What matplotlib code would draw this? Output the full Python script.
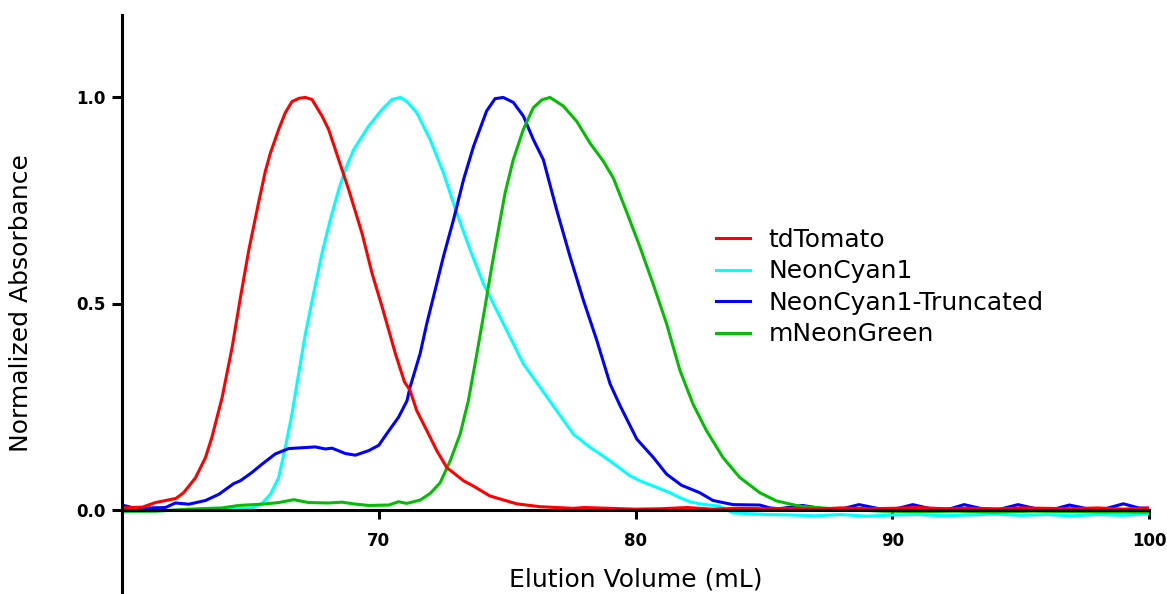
import matplotlib
matplotlib.use("Agg")
import matplotlib.pyplot as plt

# elution profiles (mL, normalized A)
td_x = [60.0, 60.8, 61.3, 62.1, 62.4, 62.86, 63.25, 63.5, 63.9, 64.29, 64.6, 64.94,
        65.32, 65.58, 65.78, 66.1, 66.36, 66.62, 66.9, 67.14, 67.4, 67.79, 68.05,
        68.44, 68.83, 69.35, 69.74, 70.13, 70.65, 71.0, 71.22, 71.48, 71.87, 72.26,
        72.65, 73.3, 73.69, 74.33, 75.37, 76.28, 77.58, 78, 79, 80, 81, 82, 83, 84,
        85, 86, 87, 88, 89, 90, 91, 92, 93, 94, 95, 96, 97, 98, 99, 100]
td_y = [0.004, 0.006, 0.017, 0.027, 0.041, 0.077, 0.126, 0.175, 0.272, 0.394, 0.51, 0.63,
        0.745, 0.82, 0.865, 0.922, 0.963, 0.99, 0.998, 1.0, 0.995, 0.955, 0.922,
        0.849, 0.776, 0.67, 0.573, 0.492, 0.378, 0.31, 0.289, 0.24, 0.192, 0.143,
        0.102, 0.07, 0.057, 0.033, 0.014, 0.007, 0.003, 0.005, 0.003, 0.001, 0.002,
        0.005, 0.001, 0.003, 0.002, 0.003, 0.001, 0.004, 0.002, 0.003, 0.005, 0.002,
        0.003, 0.001, 0.004, 0.003, 0.002, 0.004, 0.001, 0.004]

nc_x = [60.0, 61.0, 62.0, 63.0, 63.9, 65.06, 65.45, 65.78, 66.1, 66.36, 66.62, 66.88,
        67.14, 67.46, 67.79, 68.11, 68.44, 68.7, 69.02, 69.6, 70.13, 70.51, 70.84,
        71.1, 71.48, 72.0, 72.52, 73.04, 73.56, 74.07, 74.59, 75.11, 75.63, 76.28,
        76.93, 77.58, 78.23, 78.62, 79.14, 79.79, 80.17, 80.7, 81.34, 81.73, 82.12,
        82.5, 83.28, 83.8, 85.1, 86, 87, 88, 89, 90, 91, 92, 93, 94, 95, 96, 97, 98,
        99, 100]
nc_y = [-0.004, -0.003, -0.002, -0.001, 0.0, 0.004, 0.015, 0.037, 0.077, 0.151, 0.232, 0.33,
        0.426, 0.524, 0.622, 0.703, 0.776, 0.825, 0.873, 0.93, 0.971, 0.995, 1.0,
        0.99, 0.963, 0.898, 0.817, 0.719, 0.63, 0.549, 0.484, 0.419, 0.354, 0.297,
        0.24, 0.183, 0.151, 0.135, 0.112, 0.082, 0.07, 0.057, 0.041, 0.029, 0.019,
        0.014, 0.008, -0.008, -0.012, -0.013, -0.015, -0.012, -0.016, -0.013, -0.012,
        -0.015, -0.013, -0.011, -0.014, -0.012, -0.015, -0.012, -0.014, -0.01]

tr_x = [60.0, 60.52, 61.69, 62.08, 62.6, 63.25, 63.77, 64.35, 64.61, 65.06, 65.45,
        65.97, 66.49, 67.0, 67.53, 67.92, 68.18, 68.7, 69.09, 69.61, 70.0, 70.39,
        70.77, 71.1, 71.22, 71.61, 71.87, 72.13, 72.52, 72.91, 73.3, 73.69, 74.2,
        74.53, 74.85, 75.24, 75.63, 76.02, 76.41, 76.93, 77.45, 77.97, 78.49, 79.01,
        79.4, 80.05, 80.7, 81.21, 81.79, 82.5, 83.02, 83.8, 84.84, 85.23, 85.6, 86.5,
        87.3, 88.0, 88.7, 89.5, 90.1, 90.8, 91.5, 92.2, 92.8, 93.5, 94.2, 94.9, 95.6,
        96.3, 96.9, 97.6, 98.3, 99.0, 99.6, 100.0]
tr_y = [0.011, 0.003, 0.005, 0.016, 0.013, 0.022, 0.037, 0.063, 0.07, 0.09, 0.11,
        0.135, 0.148, 0.15, 0.152, 0.147, 0.149, 0.136, 0.132, 0.143, 0.156, 0.191,
        0.224, 0.264, 0.297, 0.378, 0.451, 0.516, 0.614, 0.703, 0.8, 0.881, 0.967,
        0.997, 1.0, 0.988, 0.955, 0.898, 0.849, 0.727, 0.614, 0.508, 0.411, 0.305,
        0.252, 0.171, 0.126, 0.086, 0.059, 0.041, 0.022, 0.012, 0.011, 0.004, 0.002, 0.01,
        0.002, 0.001, 0.012, 0.002, 0.001, 0.012, 0.002, 0.001, 0.012, 0.002, 0.001,
        0.012, 0.002, 0.001, 0.011, 0.002, 0.002, 0.014, 0.004, 0.003]

mg_x = [60.0, 61.3, 62.6, 63.9, 64.54, 65.45, 66.1, 66.69, 67.27, 68.05, 68.57, 69.0,
        69.6, 70.39, 70.77, 71.09, 71.61, 72.0, 72.39, 72.78, 73.17, 73.49, 73.82,
        74.14, 74.4, 74.66, 74.92, 75.24, 75.63, 76.02, 76.35, 76.67, 77.19, 77.71,
        78.23, 78.75, 79.14, 79.65, 80.17, 80.7, 81.21, 81.73, 82.24, 82.76, 83.41,
        84.06, 84.84, 85.49, 86.4, 87.7, 89.64, 91, 92.5, 94, 95.5, 97, 98.5, 100]
mg_y = [-0.004, -0.004, 0.001, 0.004, 0.01, 0.013, 0.017, 0.024, 0.017, 0.016, 0.018, 0.014,
        0.01, 0.011, 0.019, 0.015, 0.023, 0.039, 0.065, 0.118, 0.183, 0.264, 0.378,
        0.492, 0.589, 0.679, 0.768, 0.849, 0.922, 0.975, 0.994, 1.0, 0.979, 0.942,
        0.889, 0.845, 0.804, 0.723, 0.638, 0.545, 0.451, 0.338, 0.256, 0.192, 0.126,
        0.078, 0.041, 0.021, 0.008, 0.002, -0.004, -0.005, -0.004, -0.006, -0.004,
        -0.005, -0.006, -0.006]

x_ticks = [70, 80, 90, 100]
y_ticks = [0.0, 0.5, 1.0]
y_tick_labels = ["0.0", "0.5", "1.0"]

fig = plt.figure(figsize=(11.67, 5.94), dpi=100)
ax = fig.add_axes([122 / 1167, 2 / 594, 1027 / 1167, 577 / 594])

l_nc, = ax.plot(nc_x, nc_y, color="#00FFFF", lw=2.2, label="NeonCyan1")
l_tr, = ax.plot(tr_x, tr_y, color="#0000FF", lw=2.2, label="NeonCyan1-Truncated")
l_mg, = ax.plot(mg_x, mg_y, color="#00BF00", lw=2.2, label="mNeonGreen")
l_td, = ax.plot(td_x, td_y, color="#FF0000", lw=2.2, label="tdTomato")

ax.set_xlim(60, 100)
ax.set_ylim(-0.2, 1.2)
ax.spines["top"].set_visible(False)
ax.spines["right"].set_visible(False)
ax.spines["bottom"].set_position(("data", 0))
for s in ("left", "bottom"):
    ax.spines[s].set_linewidth(2.2)

ax.set_xticks(x_ticks)
ax.set_yticks(y_ticks)
ax.set_yticklabels(y_tick_labels)
ax.tick_params(axis="both", width=2.2, labelsize=12)
ax.tick_params(axis="x", length=6.5, pad=10)
ax.tick_params(axis="y", length=7, pad=5)
for t in ax.get_xticklabels() + ax.get_yticklabels():
    t.set_fontweight("bold")

ax.set_xlabel("Elution Volume (mL)", fontsize=18, va="center")
ax.xaxis.set_label_coords(0.5, 0.021)
ax.set_ylabel("Normalized Absorbance", fontsize=18, va="center")
ax.yaxis.set_label_coords(-0.098, 0.5)

ax.legend(handles=[l_td, l_nc, l_tr, l_mg], loc="center left",
          bbox_to_anchor=(716 / 1167, 1 - 287 / 594), bbox_transform=fig.transFigure,
          frameon=False, fontsize=18, handlelength=1.35, handletextpad=0.75,
          labelspacing=0.3, borderpad=0, borderaxespad=0)

fig.savefig("out.png", dpi=100)
